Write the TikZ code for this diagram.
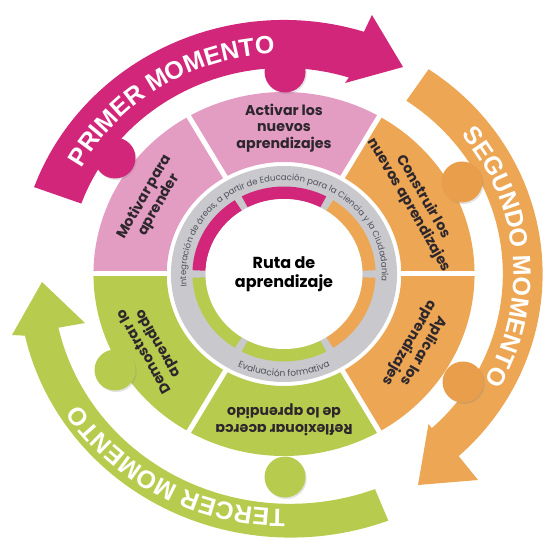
\documentclass[tikz,border=0pt]{standalone}
\usepackage{fontspec}
\setmainfont{Poppins}
\newfontfamily\bandfont{Liberation Sans}
\usetikzlibrary{decorations.text,shadows}
\definecolor{magentaC}{RGB}{210,38,122}
\definecolor{pinkC}{RGB}{227,156,194}
\definecolor{orangeC}{RGB}{236,166,84}
\definecolor{orangeD}{RGB}{232,158,74}
\definecolor{greenC}{RGB}{183,204,78}
\definecolor{grayC}{RGB}{200,200,205}
\definecolor{txtC}{RGB}{45,38,45}
\definecolor{ringtxt}{RGB}{80,80,92}
\tikzset{
  seglabel/.style={align=center,text=txtC,font=\bfseries\fontsize{14.2}{16.5}\selectfont,inner sep=0pt},
  ball/.style={circle,minimum size=41pt,inner sep=0pt,
    drop shadow={opacity=0.22,shadow xshift=1.2pt,shadow yshift=-1.6pt}},
  bandtext/.style={decorate,decoration={text along path,text align=center,text color=white,
    text={|\bandfont\bfseries\fontsize{25}{25}\selectfont|#1}}}
}
\begin{document}
\begin{tikzpicture}[x=1.047pt,y=1pt]
\useasboundingbox (0,0) rectangle (519.58,539);
\begin{scope}[shift={(271.25,265)}]
% ---- arrows
\fill[magentaC] (160:254) arc[start angle=160,end angle=72.5,radius=254]
  -- (84.0,259) -- (113.7,207) -- (58.3,191)
  -- (72.5:206) arc[start angle=72.5,end angle=160,radius=206] -- cycle;
\fill[orangeC] (56:247) arc[start angle=56,end angle=-47.5,radius=247]
  -- (185.3,-206) -- (128.0,-211) -- (138,-150)
  -- (-47.5:209) arc[start angle=-47.5,end angle=56,radius=209] -- cycle;
\fill[greenC] plot[domain=-68:-166,samples=60] (\x:{266-(-68-\x)*11/98})
  -- (-259.8,-61) -- (-231.1,-8) -- (-190.1,-49)
  -- plot[domain=-166:-68,samples=60] (\x:{232-(-68-\x)*10/98}) -- cycle;
% ---- arrow texts
\path[bandtext={PRIMER MOMENTO}] (162:220.5) arc[start angle=162,end angle=82,radius=220.5];
\path[bandtext={SEGUNDO MOMENTO}] (52:219) arc[start angle=52,end angle=-42,radius=219];
\path[bandtext={TERCER MOMENTO}] (-66:235) arc[start angle=-66,end angle=-171,radius=235];
% ---- segments
\foreach \a/\c in {120/pinkC,60/pinkC,0/orangeC,-60/orangeC,-120/greenC,180/greenC}
  \fill[\c] (\a:112) arc[start angle=\a,end angle=\a+60,radius=112]
    -- ({\a+60}:182) arc[start angle=\a+60,end angle=\a,radius=182] -- cycle;
\foreach \a in {0,60,...,300}
  \draw[white,line width=5pt] (\a:109) -- (\a:186);
% ---- gray ring
\fill[grayC] (0,0) circle[radius=108];
\foreach \a/\c in {120/magentaC,60/magentaC,0/orangeC,-60/orangeC,-120/greenC,180/greenC}
  \fill[\c] ({\a+2.5}:75) arc[start angle=\a+2.5,end angle=\a+57.5,radius=75]
    -- ({\a+57.5}:87.5) arc[start angle=\a+57.5,end angle=\a+2.5,radius=87.5] -- cycle;
\fill[white] (0,0) circle[radius=75];
\path[decorate,decoration={text along path,text align=center,text color=ringtxt,
  text={|\fontsize{8.5}{9}\selectfont|Integración de áreas{,} a partir de Educación para la Ciencia y la Ciudadanía}}]
  (205:93.5) arc[start angle=205,end angle=-22,radius=93.5];
\path[decorate,decoration={text along path,text align=center,text color=ringtxt,
  text={|\fontsize{9}{10}\selectfont|Evaluación formativa}}]
  (-145:102.5) arc[start angle=-145,end angle=-35,radius=102.5];
% ---- labels
\node[font=\bfseries\fontsize{16}{19}\selectfont,align=center,text=black] (ruta) at (0,0) {Ruta de\\aprendizaje};
\node[seglabel,rotate=60] (motivar) at (150:146) {Motivar para\\aprender};
\node[seglabel] (activar) at (90:146) {Activar los\\nuevos\\aprendizajes};
\node[seglabel,rotate=-60] (construir) at (30:146) {Construir los\\nuevos aprendizajes};
\node[seglabel,rotate=-120] (aplicar) at (-30:146) {Aplicar los\\aprendizajes};
\node[seglabel,rotate=180] (reflexionar) at (-90:146) {Reflexionar acerca\\de lo aprendido};
\node[seglabel,rotate=120] (demostrar) at (210:146) {Demostrar lo\\aprendido};
% ---- balls
\node[ball,fill=magentaC] (b1) at (1,202) {};
\node[ball,fill=magentaC] (b2) at (-161.4,116) {};
\node[ball,fill=orangeD] (b3) at (170,92) {};
\node[ball,fill=orangeD] (b4) at (171,-108) {};
\node[ball,fill=greenC] (b5) at (1,-203) {};
\node[ball,fill=greenC] (b6) at (-161.4,-96) {};
\end{scope}
\end{tikzpicture}
\end{document}
